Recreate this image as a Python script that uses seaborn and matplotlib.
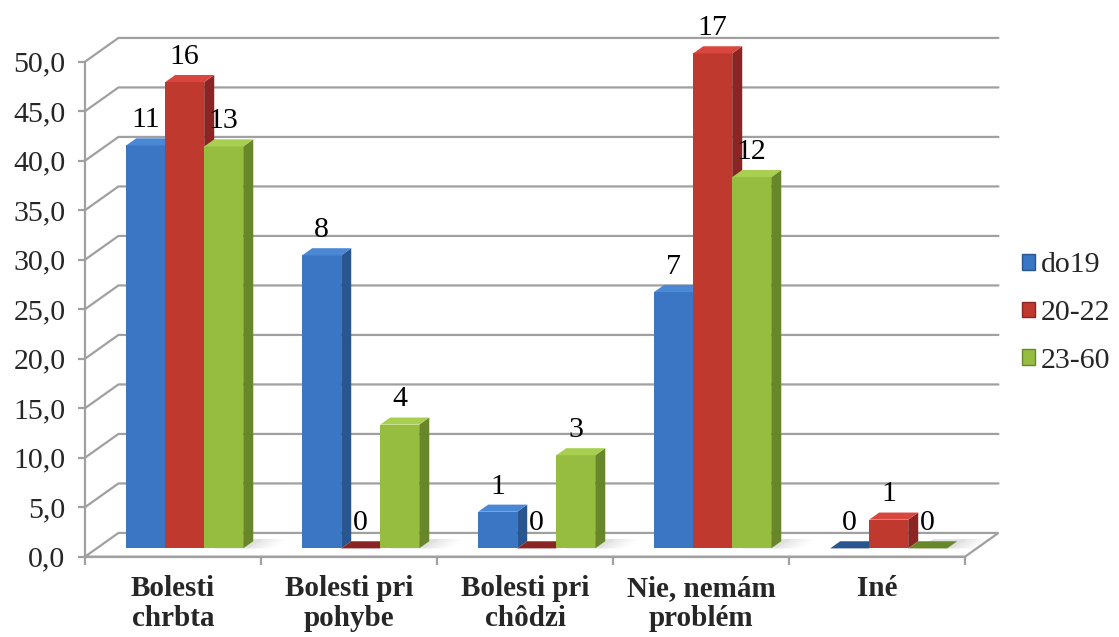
import numpy as np
import pandas as pd
import matplotlib
matplotlib.use("Agg")
import matplotlib.pyplot as plt
from matplotlib.patches import Polygon, Patch
import seaborn as sns

# ---- data ----
categories = ["Bolesti\nchrbta", "Bolesti pri\npohybe", "Bolesti pri\nchôdzi",
              "Nie, nemám\nproblém", "Iné"]
groups = ["do19", "20-22", "23-60"]
# percentage of respondents within each age group (bar heights)
pct_do19 = [40.7, 29.6, 3.7, 25.9, 0.0]
pct_20_22 = [47.1, 0.0, 0.0, 50.0, 2.9]
pct_23_60 = [40.6, 12.5, 9.4, 37.5, 0.0]
# number of respondents (printed above the bars)
cnt_do19 = [11, 8, 1, 7, 0]
cnt_20_22 = [16, 0, 0, 17, 1]
cnt_23_60 = [13, 4, 3, 12, 0]
yticks = [0, 5, 10, 15, 20, 25, 30, 35, 40, 45, 50]

pct = {"do19": pct_do19, "20-22": pct_20_22, "23-60": pct_23_60}
cnt = {"do19": cnt_do19, "20-22": cnt_20_22, "23-60": cnt_23_60}

df = pd.DataFrame({
    "cat": [c for g in groups for c in categories],
    "group": [g for g in groups for _ in categories],
    "pct": [v for g in groups for v in pct[g]],
})

# face colours: front, side, top
front = {"do19": "#3a76c4", "20-22": "#c0392f", "23-60": "#96bd40"}
side = {"do19": "#2a5690", "20-22": "#8a2523", "23-60": "#67872a"}
top = {"do19": "#4a88d6", "20-22": "#d9463f", "23-60": "#a8cf50"}

GRID = "#a0a0a0"
SERIF = ["Liberation Serif", "DejaVu Serif"]
FS = 21.5

sns.set_theme(style="white")
plt.rcParams["font.family"] = SERIF

W, H = 1119, 637
fig = plt.figure(figsize=(W / 100, H / 100), dpi=100)

# 3-D geometry (data units)
dxw, dyw = 0.19, 2.4      # depth of floor / back wall
dxb, dyb = 0.057, 0.72    # depth of each bar
dxf, dyf = (dxw - dxb) / 2, (dyw - dyb) / 2   # bar front offset from floor edge

px_per_cat = 176.0
px_per_unit = 9.9
x_left_px, y0_px = 85.0, 556.7
xlim = (-0.5, 4.5 + dxw)
ax = fig.add_axes([x_left_px / W, (H - y0_px) / H,
                   (xlim[1] - xlim[0]) * px_per_cat / W,
                   50 * px_per_unit / H])

sns.barplot(data=df, x="cat", y="pct", hue="group", order=categories,
            hue_order=groups, palette=front, width=0.665, saturation=1,
            errorbar=None, legend=False, linewidth=0, edgecolor="none", ax=ax)

ax.set_xlim(*xlim)
ax.set_ylim(0, 50)

# back wall grid lines with their diagonal returns to the y axis
for y in yticks[1:]:
    ax.plot([-0.5, -0.5 + dxw, 4.5 + dxw], [y, y + dyw, y + dyw],
            color=GRID, lw=1.6, zorder=0.5, clip_on=False,
            solid_joinstyle="miter")

# floor
floor = Polygon([(-0.5, 0), (4.5, 0), (4.5 + dxw, dyw), (-0.5 + dxw, dyw)],
                closed=True, facecolor="white", edgecolor=GRID, lw=1.6,
                zorder=0.8, clip_on=False)
ax.add_patch(floor)

# soft shadows on the floor, fading out to the right of each group
for i in range(len(categories)):
    heights = [pct[g][i] for g in groups]
    if max(heights) <= 0:
        continue
    gx = i - 0.665 / 2 + dxf + 0.5
    for k, a in enumerate(np.linspace(0.07, 0.015, 6)):
        ext = 0.665 - 0.5 + 0.03 + k * 0.03
        sh = Polygon([(gx, dyf), (gx + ext, dyf),
                      (gx + ext + dxb * 1.5, dyf + dyb * 1.3),
                      (gx + dxb * 1.5, dyf + dyb * 1.3)],
                     closed=True, facecolor="#808080", alpha=a,
                     edgecolor="none", zorder=0.9, clip_on=False)
        ax.add_patch(sh)

# give every bar a side and a top face
for g, cont in zip(groups, ax.containers):
    for i, p in enumerate(cont.patches):
        x0 = p.get_x() + dxf
        w = p.get_width()
        h = p.get_height()
        p.set_x(x0)
        p.set_y(dyf)
        z = 3 + x0 * 0.1
        p.set_zorder(z)
        p.set_clip_on(False)
        sf = Polygon([(x0 + w, dyf), (x0 + w + dxb, dyf + dyb),
                      (x0 + w + dxb, dyf + h + dyb), (x0 + w, dyf + h)],
                     closed=True, facecolor=side[g], edgecolor="none",
                     zorder=z, clip_on=False)
        tf = Polygon([(x0, dyf + h), (x0 + w, dyf + h),
                      (x0 + w + dxb, dyf + h + dyb), (x0 + dxb, dyf + h + dyb)],
                     closed=True, facecolor=top[g] if h > 0 else side[g],
                     edgecolor="none", zorder=z, clip_on=False)
        ax.add_patch(sf)
        ax.add_patch(tf)
        ax.annotate(str(cnt[g][i]), xy=(x0 + w / 2, dyf + h + dyb),
                    xytext=(0, 8), textcoords="offset points",
                    ha="center", va="baseline", fontsize=FS,
                    family=SERIF, color="black", zorder=10,
                    annotation_clip=False)

# axes styling
for s in ["top", "right"]:
    ax.spines[s].set_visible(False)
ax.spines["left"].set_color(GRID)
ax.spines["left"].set_linewidth(1.6)
ax.spines["left"].set_bounds(0, 50)
ax.spines["bottom"].set_color(GRID)
ax.spines["bottom"].set_linewidth(1.6)
ax.spines["bottom"].set_bounds(-0.5, 4.5)
ax.spines["bottom"].set_zorder(1)

ax.set_yticks(yticks)
ax.set_yticklabels([f"{v:.1f}".replace(".", ",") for v in yticks],
                   fontsize=FS, family=SERIF)
ax.tick_params(axis="y", which="major", direction="out", length=5,
               width=1.6, color=GRID, pad=9, left=True)

ax.set_xticks(range(len(categories)))
ax.set_xticklabels(categories, fontsize=21, fontweight="bold",
                   family=SERIF, va="top", linespacing=1.15)
ax.set_xticks(np.arange(-0.5, 5.0, 1.0), minor=True)
ax.tick_params(axis="x", which="major", length=0, pad=13)
ax.tick_params(axis="x", which="minor", direction="out", length=6,
               width=1.6, color=GRID, bottom=True)
ax.set_xlabel("")
ax.set_ylabel("")
ax.grid(False)

handles = [Patch(facecolor=front[g], edgecolor=side[g], linewidth=1.0)
           for g in groups]
fig.legend(handles, groups, loc="center left",
           bbox_to_anchor=(1022 / W, 1 - 313 / H), frameon=False,
           prop={"family": SERIF, "size": FS},
           handlelength=0.42, handleheight=0.42, handletextpad=0.2,
           labelspacing=0.72, borderaxespad=0, borderpad=0)

fig.savefig("out.png", dpi=100, facecolor="white")
